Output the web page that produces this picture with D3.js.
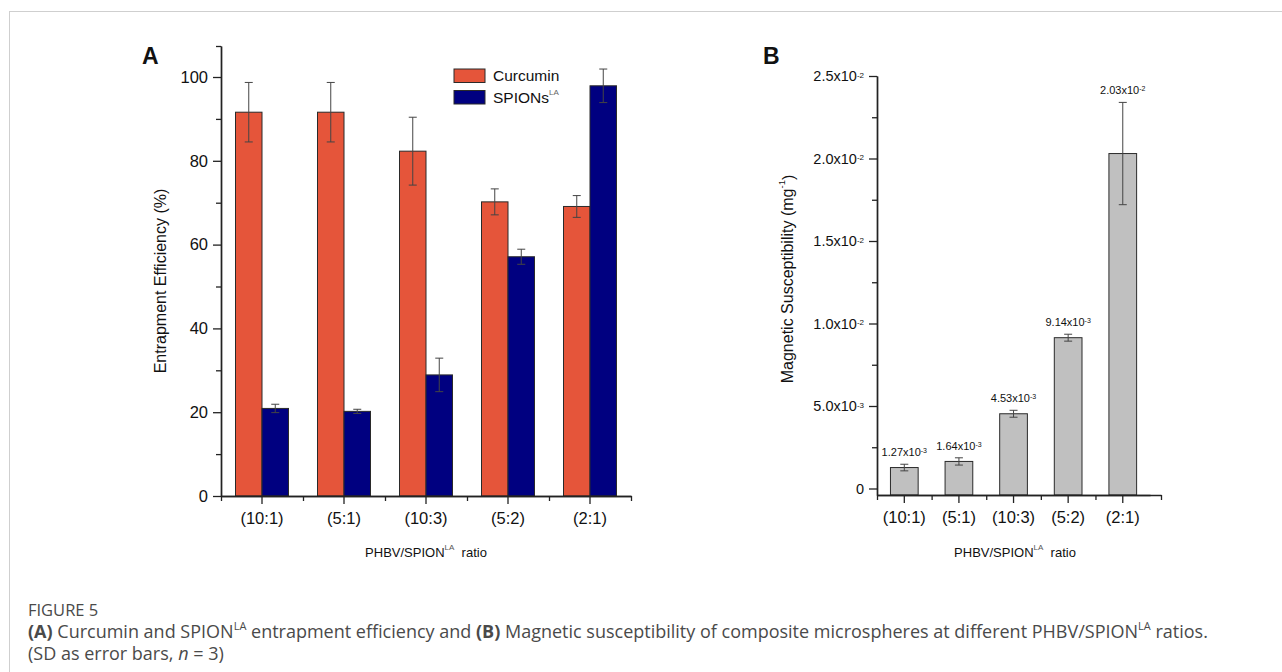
<!DOCTYPE html>
<html>
<head>
<meta charset="utf-8">
<script src="https://cdn.jsdelivr.net/npm/d3@7"></script>
<style>
  body { margin: 0; background: #fff; }
  svg text { font-family: "Liberation Sans", Arial, sans-serif; fill: #111; }
  svg .caption { font-family: "Open Sans", "Noto Sans", sans-serif; fill: #4a4a4a; }
</style>
</head>
<body>
<svg id="fig" width="1282" height="672"></svg>
<script>
// ratio categories shared by both panels
const ratios = ["(10:1)", "(5:1)", "(10:3)", "(5:2)", "(2:1)"];

// panel A: entrapment efficiency (%)
const seriesNames = ["Curcumin", "SPIONs"];
const curcumin = [91.6, 91.6, 82.3, 70.2, 69.1];
const curcuminSD = [7.1, 7.1, 8.1, 3.1, 2.6];
const spions = [20.9, 20.2, 28.9, 57.1, 97.9];
const spionsSD = [1.0, 0.5, 4.0, 1.8, 4.0];
const effTicks = [0, 20, 40, 60, 80, 100];
const effMinorTicks = [10, 30, 50, 70, 90];

// panel B: magnetic susceptibility (mg^-1)
const susceptibility = [1.27e-3, 1.64e-3, 4.53e-3, 9.14e-3, 2.03e-2];
const susceptibilitySD = [0.0002, 0.00022, 0.00021, 0.00021, 0.0031];
const susTicks = [0, 0.005, 0.01, 0.015, 0.02, 0.025];
const susMinorTicks = [0.0025, 0.0075, 0.0125, 0.0175, 0.0225];

const colors = { Curcumin: "#e5553a", SPIONs: "#000080" };

const svg = d3.select("#fig");

// frame around the figure
svg.append("rect")
    .attr("x", 9.5).attr("y", 11.5)
    .attr("width", 1300).attr("height", 700)
    .attr("fill", "none")
    .attr("stroke", "#cfcfcf");

// write "mantissa x10^exp" into a text node
function sciText(sel, mantissa, exp, supSize) {
    sel.text(null);
    sel.append("tspan").text(mantissa + "x10");
    sel.append("tspan")
        .attr("font-size", supSize)
        .attr("dy", "-0.45em")
        .text(exp);
}

function styleAxis(g) {
    g.selectAll("path.domain").attr("stroke", "#222").attr("stroke-width", 1.4);
    g.selectAll(".tick line").attr("stroke", "#222").attr("stroke-width", 1.3);
}

/* ---------- Panel A ---------- */
const aLeft = 221, aRight = 631, aTop = 46, aBottom = 496;

const xA = d3.scaleBand().domain(ratios).range([aLeft, aRight]);
const xAEdge = d3.scaleLinear().domain([0, ratios.length]).range([aLeft, aRight]);
const xInner = d3.scaleBand().domain(seriesNames).range([0, 53]);
const yA = d3.scaleLinear().domain([0, 107.4]).range([aBottom, aTop]);

const panelA = svg.append("g");

const rowsA = [];
ratios.forEach((r, i) => {
    rowsA.push({ ratio: r, series: "Curcumin", value: curcumin[i], sd: curcuminSD[i] });
    rowsA.push({ ratio: r, series: "SPIONs", value: spions[i], sd: spionsSD[i] });
});
const barX = d => xA(d.ratio) + xA.bandwidth() / 2 - 26.5 + xInner(d.series);

panelA.selectAll(".barA")
    .data(rowsA)
    .enter()
    .append("rect")
    .attr("class", "barA")
    .attr("x", barX)
    .attr("y", d => yA(d.value))
    .attr("width", xInner.bandwidth())
    .attr("height", d => yA(0) - yA(d.value))
    .attr("fill", d => colors[d.series])
    .attr("stroke", "#2a2a2a")
    .attr("stroke-width", 1);

// error bars
const errA = panelA.selectAll(".errA")
    .data(rowsA)
    .enter()
    .append("g")
    .attr("class", "errA")
    .attr("stroke", "#444")
    .attr("stroke-width", 1);
errA.append("line")
    .attr("x1", d => barX(d) + xInner.bandwidth() / 2)
    .attr("x2", d => barX(d) + xInner.bandwidth() / 2)
    .attr("y1", d => yA(d.value + d.sd))
    .attr("y2", d => yA(d.value - d.sd));
errA.selectAll(".cap")
    .data(d => [d.value + d.sd, d.value - d.sd].map(v => ({ d, v })))
    .enter()
    .append("line")
    .attr("x1", o => barX(o.d) + xInner.bandwidth() / 2 - 4)
    .attr("x2", o => barX(o.d) + xInner.bandwidth() / 2 + 4)
    .attr("y1", o => yA(o.v))
    .attr("y2", o => yA(o.v));

// axes
panelA.append("g")
    .attr("transform", `translate(${aLeft},0)`)
    .call(d3.axisLeft(yA).tickValues(effTicks).tickSize(8).tickSizeOuter(0).tickPadding(5))
    .call(g => g.selectAll(".tick text").attr("font-size", 16.5))
    .call(styleAxis);
panelA.append("g")
    .attr("transform", `translate(${aLeft},0)`)
    .call(d3.axisLeft(yA).tickValues(effMinorTicks.concat([107.4])).tickSize(5).tickSizeOuter(0).tickFormat(""))
    .call(styleAxis);
panelA.append("g")
    .attr("transform", `translate(0,${aBottom})`)
    .call(d3.axisBottom(xA).tickSize(8).tickSizeOuter(0).tickPadding(8))
    .call(g => g.selectAll(".tick text").attr("font-size", 16.5))
    .call(styleAxis);
panelA.append("g")
    .attr("transform", `translate(0,${aBottom})`)
    .call(d3.axisBottom(xAEdge).tickValues(d3.range(ratios.length + 1)).tickSize(5).tickSizeOuter(0).tickFormat(""))
    .call(styleAxis);

// titles
panelA.append("text")
    .attr("transform", "translate(166,281) rotate(-90)")
    .attr("text-anchor", "middle")
    .attr("font-size", 16)
    .text("Entrapment Efficiency (%)");

const xtA = panelA.append("text")
    .attr("x", 426).attr("y", 557)
    .attr("text-anchor", "middle")
    .attr("font-size", 13);
xtA.append("tspan").text("PHBV/SPION");
xtA.append("tspan").attr("font-size", 8).attr("dy", "-0.9em").attr("fill", "#555").text("LA");
xtA.append("tspan").attr("dy", "0.55em").text("\u00a0 ratio");

panelA.append("text")
    .attr("x", 142).attr("y", 64)
    .attr("font-size", 23)
    .attr("font-weight", "bold")
    .text("A");

// legend
const legend = panelA.selectAll(".legA")
    .data(seriesNames)
    .enter()
    .append("g")
    .attr("class", "legA")
    .attr("transform", (d, i) => `translate(454,${69 + i * 21.5})`);
legend.append("rect")
    .attr("width", 31).attr("height", 13.5)
    .attr("fill", d => colors[d])
    .attr("stroke", "#2a2a2a")
    .attr("stroke-width", 1);
legend.append("text")
    .attr("x", 39).attr("y", 12)
    .attr("font-size", 15.5)
    .each(function(d) {
        const t = d3.select(this);
        t.append("tspan").text(d);
        if (d === "SPIONs") {
            t.append("tspan").attr("font-size", 8).attr("dy", "-0.9em").attr("fill", "#666").text("LA");
        }
    });

/* ---------- Panel B ---------- */
const bLeft = 877, bTop = 76, bBottom = 495;

const xBEdge = d3.scaleLinear().domain([0, 5.2]).range([bLeft, 1161]);
const xB = d3.scaleBand().domain(ratios).range([bLeft, xBEdge(ratios.length)]);
const yB = d3.scaleLinear().domain([-0.000394, 0.025]).range([bBottom, bTop]);

const panelB = svg.append("g");
const rowsB = ratios.map((r, i) => ({ ratio: r, value: susceptibility[i], sd: susceptibilitySD[i] }));
const bw = 27.7;
const cxB = d => xB(d.ratio) + xB.bandwidth() / 2;

panelB.selectAll(".barB")
    .data(rowsB)
    .enter()
    .append("rect")
    .attr("class", "barB")
    .attr("x", d => cxB(d) - bw / 2)
    .attr("y", d => yB(d.value))
    .attr("width", bw)
    .attr("height", d => bBottom - yB(d.value))
    .attr("fill", "#c0c0c0")
    .attr("stroke", "#2a2a2a")
    .attr("stroke-width", 1);

const errB = panelB.selectAll(".errB")
    .data(rowsB)
    .enter()
    .append("g")
    .attr("class", "errB")
    .attr("stroke", "#444")
    .attr("stroke-width", 1);
errB.append("line")
    .attr("x1", cxB).attr("x2", cxB)
    .attr("y1", d => yB(d.value + d.sd))
    .attr("y2", d => yB(d.value - d.sd));
errB.selectAll(".cap")
    .data(d => [d.value + d.sd, d.value - d.sd].map(v => ({ d, v })))
    .enter()
    .append("line")
    .attr("x1", o => cxB(o.d) - 4)
    .attr("x2", o => cxB(o.d) + 4)
    .attr("y1", o => yB(o.v))
    .attr("y2", o => yB(o.v));

// value labels over the bars
panelB.selectAll(".valB")
    .data(rowsB)
    .enter()
    .append("text")
    .attr("class", "valB")
    .attr("x", cxB)
    .attr("y", d => yB(d.value + d.sd) - 8)
    .attr("text-anchor", "middle")
    .attr("font-size", 11)
    .each(function(d) {
        const e = Math.floor(Math.log10(d.value));
        sciText(d3.select(this), (d.value / Math.pow(10, e)).toFixed(2), String(e), 7);
    });

panelB.append("g")
    .attr("transform", `translate(${bLeft},0)`)
    .call(d3.axisLeft(yB).tickValues(susTicks).tickSize(8).tickSizeOuter(0).tickPadding(5))
    .call(g => g.selectAll(".tick text")
        .attr("font-size", 14.5)
        .each(function(d) {
            if (d === 0) { d3.select(this).text("0"); return; }
            const e = Math.floor(Math.log10(d) + 1e-9);
            sciText(d3.select(this), (d / Math.pow(10, e)).toFixed(1), String(e), 8);
        }))
    .call(styleAxis);
panelB.append("g")
    .attr("transform", `translate(${bLeft},0)`)
    .call(d3.axisLeft(yB).tickValues(susMinorTicks).tickSize(5).tickSizeOuter(0).tickFormat(""))
    .call(styleAxis);
panelB.append("g")
    .attr("transform", `translate(0,${bBottom})`)
    .call(d3.axisBottom(xB).tickSize(8).tickSizeOuter(0).tickPadding(8))
    .call(g => g.selectAll(".tick text").attr("font-size", 16.5))
    .call(styleAxis);
panelB.append("g")
    .attr("transform", `translate(0,${bBottom})`)
    .call(d3.axisBottom(xBEdge).tickValues([0, 1, 2, 3, 4, 5.2]).tickSize(5).tickSizeOuter(0).tickFormat(""))
    .call(styleAxis);

const ytB = panelB.append("text")
    .attr("transform", "translate(793,279) rotate(-90)")
    .attr("text-anchor", "middle")
    .attr("font-size", 16);
ytB.append("tspan").text("Magnetic Susceptibility (mg");
ytB.append("tspan").attr("font-size", 9.5).attr("dy", "-0.8em").text("-1");
ytB.append("tspan").attr("dy", "0.55em").text(")");

const xtB = panelB.append("text")
    .attr("x", 1015).attr("y", 557)
    .attr("text-anchor", "middle")
    .attr("font-size", 13);
xtB.append("tspan").text("PHBV/SPION");
xtB.append("tspan").attr("font-size", 8).attr("dy", "-0.9em").attr("fill", "#555").text("LA");
xtB.append("tspan").attr("dy", "0.55em").text("\u00a0 ratio");

panelB.append("text")
    .attr("x", 763).attr("y", 64)
    .attr("font-size", 23)
    .attr("font-weight", "bold")
    .text("B");

/* ---------- Caption ---------- */
svg.append("text")
    .attr("class", "caption")
    .attr("x", 28).attr("y", 616)
    .attr("font-size", 16.5)
    .attr("fill", "#555")
    .text("FIGURE 5");

const cap = svg.append("text")
    .attr("class", "caption")
    .attr("x", 28).attr("y", 638)
    .attr("font-size", 18);
cap.append("tspan").attr("font-weight", "bold").text("(A)");
cap.append("tspan").text(" Curcumin and SPION");
cap.append("tspan").attr("font-size", 11).attr("dy", "-0.7em").text("LA");
cap.append("tspan").attr("dy", "0.43em").text(" entrapment efficiency and ");
cap.append("tspan").attr("font-weight", "bold").text("(B)");
cap.append("tspan").text(" Magnetic susceptibility of composite microspheres at different PHBV/SPION");
cap.append("tspan").attr("font-size", 11).attr("dy", "-0.7em").text("LA");
cap.append("tspan").attr("dy", "0.43em").text(" ratios.");

const cap2 = svg.append("text")
    .attr("class", "caption")
    .attr("x", 28).attr("y", 660)
    .attr("font-size", 18);
cap2.append("tspan").text("(SD as error bars, ");
cap2.append("tspan").attr("font-style", "italic").text("n");
cap2.append("tspan").text(" = 3)");
</script>
</body>
</html>
